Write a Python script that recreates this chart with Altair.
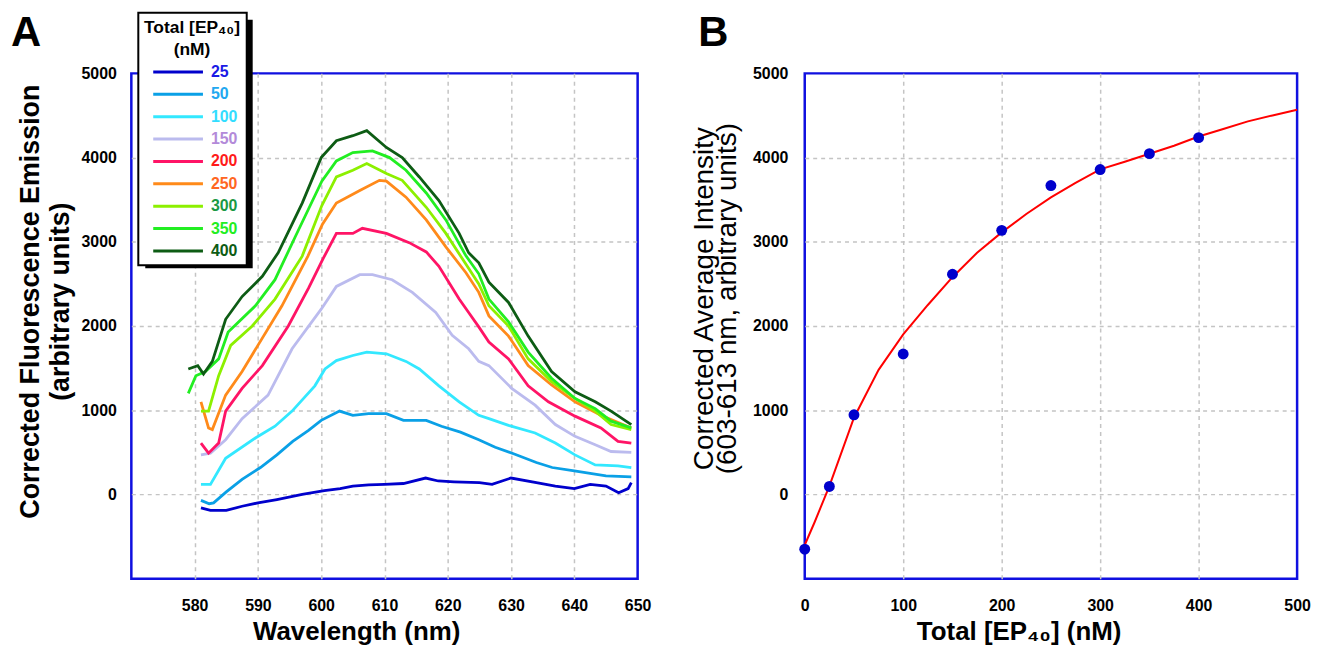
import altair as alt
import pandas as pd

FONT = "Liberation Sans"

# ---------------- Panel A: emission spectra ----------------
concs = ["25", "50", "100", "150", "200", "250", "300", "350", "400"]
line_colors = ["#0000CC", "#0AA0E6", "#33E8FF", "#BBBBEE", "#FF1466",
               "#FF8A1A", "#8CF000", "#22EE22", "#0D5C14"]
label_colors = ["#1A1AE6", "#22A8F0", "#33DDFF", "#B38AD9", "#FF1A1A",
                "#FF6622", "#1A9944", "#22EE22", "#0D5C14"]

wl_25 = [581, 582.5, 585, 587.5, 590, 593, 597, 600.5, 603, 605, 607.5, 610, 613, 616.5, 618.5,
         621, 625, 627, 630, 634, 637, 640, 642.5, 645, 647, 648.5, 649]
v_25 = [-160, -190, -190, -140, -100, -60, 0, 45, 70, 100, 115, 120, 130, 195, 160,
        150, 140, 120, 195, 140, 100, 70, 120, 100, 20, 70, 140]

wl_50 = [581, 582.3, 583, 585, 587.5, 590.4, 593, 595.5, 598, 600, 602.9, 605, 607.5, 610.3, 613,
         616.6, 619, 622, 624.9, 627.5, 630.5, 634, 636.5, 640, 645, 649]
v_50 = [-70, -110, -100, 30, 180, 320, 470, 630, 760, 880, 990, 940, 960, 960, 880,
        880, 810, 740, 650, 560, 480, 380, 320, 280, 220, 210]

wl_100 = [581, 582.5, 584.9, 589.6, 592.7, 595.4, 599, 600.6, 602.4, 605, 607.2, 610.3, 613.4,
          615.5, 618.6, 621.8, 624.9, 626.5, 629.6, 633.8, 637, 640.1, 643.3, 646.9, 649]
v_100 = [120, 120, 430, 670, 810, 990, 1290, 1490, 1590, 1650, 1690, 1670, 1580,
         1490, 1290, 1100, 940, 900, 820, 730, 610, 470, 350, 340, 320]

wl_150 = [581, 582.5, 584.9, 587.5, 591.6, 595.4, 600, 602.4, 606.1, 608.1, 611.2, 614.4, 618.1,
          620.7, 623.3, 624.9, 626.5, 630.1, 633.8, 637, 640.1, 643.3, 645.8, 649]
v_150 = [470, 490, 650, 900, 1180, 1730, 2200, 2470, 2610, 2610, 2550, 2400, 2160,
         1890, 1730, 1580, 1530, 1260, 1060, 830, 690, 590, 510, 500]

wl_200 = [581, 582.2, 583.8, 584.9, 587.5, 590.7, 594.8, 598, 600.3, 602.4, 605, 606.5, 610.3,
          613.9, 616.6, 618.6, 621.8, 623.3, 624.9, 626.5, 629.6, 632.7, 635.9, 640.1, 644.2,
          646.9, 649]
v_200 = [610, 490, 610, 990, 1260, 1530, 2000, 2450, 2800, 3100, 3100, 3160, 3100,
         2990, 2880, 2710, 2320, 2160, 1990, 1810, 1610, 1290, 1100, 930, 790,
         630, 610]

wl_250 = [581, 582.2, 582.8, 584.9, 587.5, 590, 593.8, 597.9, 600.2, 602.4, 606.1, 609.2, 610.3,
          613.4, 616.6, 619.7, 622.9, 624.9, 626.5, 629.6, 632.7, 636.4, 640.1, 644.2, 649]
v_250 = [1100, 790, 770, 1180, 1460, 1770, 2240, 2830, 3210, 3460, 3610, 3730, 3720,
         3530, 3260, 2940, 2630, 2400, 2120, 1880, 1530, 1300, 1100, 940, 790]

wl_300 = [581, 582.2, 583.8, 585.7, 589.1, 592.7, 597, 600.1, 602.4, 605, 607.2, 610.3, 612.8,
          616.6, 619.7, 622.9, 624.9, 626.5, 629.6, 632.7, 636.4, 640.1, 643.3, 645.8, 649]
v_300 = [990, 990, 1410, 1770, 2000, 2320, 2830, 3430, 3770, 3850, 3930, 3810, 3730,
         3410, 3100, 2730, 2500, 2240, 2000, 1610, 1340, 1140, 990, 830, 770]

wl_350 = [579, 580.2, 581.7, 583.8, 585.3, 589.6, 592.7, 595.9, 600.1, 602.4, 605, 608.1, 610.8,
          613.4, 616.6, 619.7, 622.9, 624.9, 626.5, 629.6, 632.7, 636.4, 640.1, 643.3, 645.8, 649]
v_350 = [1200, 1410, 1460, 1610, 1930, 2240, 2550, 3060, 3720, 3960, 4060, 4080, 4000,
         3850, 3580, 3260, 2830, 2620, 2320, 2050, 1690, 1380, 1140, 1020, 870, 790]

wl_400 = [579, 580.5, 581.4, 582.8, 584.9, 587.5, 590.7, 593.2, 597, 600, 602.4, 605, 607.2,
          610.3, 612.8, 615.5, 618.6, 621.8, 623.3, 624.9, 626.5, 629.6, 632.7, 636.4, 640.1,
          643.3, 645.8, 649]
v_400 = [1490, 1530, 1430, 1580, 2080, 2350, 2590, 2870, 3460, 4000, 4200, 4260, 4320,
         4120, 4000, 3770, 3490, 3100, 2870, 2750, 2520, 2280, 1880, 1460, 1220,
         1100, 990, 830]

all_wl = [wl_25, wl_50, wl_100, wl_150, wl_200, wl_250, wl_300, wl_350, wl_400]
all_v = [v_25, v_50, v_100, v_150, v_200, v_250, v_300, v_350, v_400]

x_ticks_a = [580, 590, 600, 610, 620, 630, 640, 650]
y_ticks = [0, 1000, 2000, 3000, 4000, 5000]

# ---------------- Panel B: titration ----------------
conc_pts = [0, 25, 50, 100, 150, 200, 250, 300, 350, 400]
intensity_pts = [-650, 95, 946, 1668, 2615, 3136, 3668, 3858, 4047, 4237]

fit_x = [0, 10, 25, 50, 75, 100, 125, 150, 175, 200, 225, 250, 275, 300, 325, 350, 375, 400,
         425, 450, 475, 500]
fit_y = [-600, -330, 100, 911, 1480, 1900, 2250, 2580, 2870, 3112, 3330, 3527, 3700, 3860,
         3950, 4045, 4140, 4250, 4340, 4430, 4500, 4568]
x_ticks_b = [0, 100, 200, 300, 400, 500]

# ---------------- tables ----------------
rows = []
for c, wl, vv in zip(concs, all_wl, all_v):
    for w, y in zip(wl, vv):
        rows.append({"wavelength": w, "value": y, "conc": c})
spectra = pd.DataFrame(rows)
pts_df = pd.DataFrame({"conc": conc_pts, "intensity": intensity_pts})
fit_df = pd.DataFrame({"conc": fit_x, "intensity": fit_y})
one = pd.DataFrame({"k": [0]})

label_expr = " : ".join(
    f"datum.label == '{c}' ? '{col}'" for c, col in zip(concs, label_colors)
) + " : 'black'"

y_scale = alt.Scale(domain=[-1000, 5000], nice=False, zero=False)
hide_y_edge = {"condition": {"test": "datum.value >= 5000", "value": 0}, "value": 1}

# ---------------- Panel A chart ----------------
shadow = alt.Chart(one).mark_rect(color="black").encode(
    x=alt.value(14), x2=alt.value(122), y=alt.value(-54), y2=alt.value(196)
)

lines = alt.Chart(spectra).mark_line(strokeWidth=2.8).encode(
    x=alt.X("wavelength:Q",
            scale=alt.Scale(domain=[570, 650], nice=False, zero=False),
            axis=alt.Axis(values=x_ticks_a, title="Wavelength (nm)", labelPadding=19,
                          titleX=226, titleY=53, titleBaseline="middle",
                          gridOpacity={"condition": {"test": "datum.value >= 650", "value": 0},
                                       "value": 1})),
    y=alt.Y("value:Q", scale=y_scale,
            axis=alt.Axis(values=y_ticks,
                          title=["Corrected Fluorescence Emission", "(arbitrary units)"],
                          titleFontSize=27, titleLineHeight=30,
                          titleX=-101, titleY=229, titleBaseline="middle",
                          labelPadding=15, gridOpacity=hide_y_edge)),
    color=alt.Color("conc:N",
                    scale=alt.Scale(domain=concs, range=line_colors),
                    legend=alt.Legend(
                        title=["Total [EP\u2084\u2080]", "(nM)"],
                        orient="none", legendX=7, legendY=-61,
                        titleFontSize=17.5, titleFont=FONT, titleFontWeight="bold",
                        titleColor="black", titleAlign="center", titleAnchor="middle",
                        titleLineHeight=23, titlePadding=5,
                        labelFontSize=16, labelFont=FONT, labelFontWeight="bold",
                        labelColor=alt.ExprRef(expr=label_expr),
                        symbolType="M-1,0H9", symbolSize=100, symbolStrokeWidth=3,
                        symbolOffset=3,
                        labelOffset=45, rowPadding=6.5, padding=6,
                        fillColor="white", strokeColor="black", zindex=1,
                    )),
)

text_a = alt.Chart(one).mark_text(
    text="A", font=FONT, fontSize=42, fontWeight="bold", align="left",
    baseline="alphabetic", color="black"
).encode(x=alt.value(-121), y=alt.value(-28))

panel_a = alt.layer(shadow, lines, text_a).properties(width=509, height=508)

# ---------------- Panel B chart ----------------
x_b = alt.X("conc:Q", scale=alt.Scale(domain=[0, 500], nice=False),
            axis=alt.Axis(values=x_ticks_b, title="Total [EP\u2084\u2080] (nM)", labelPadding=19,
                          titleX=215, titleY=53, titleBaseline="middle",
                          gridOpacity={"condition": {"test": "datum.value >= 500 || datum.value <= 0",
                                                     "value": 0}, "value": 1}))
y_b = alt.Y("intensity:Q", scale=y_scale,
            axis=alt.Axis(values=y_ticks,
                          title=["Corrected Average Intensity",
                                 "(603-613 nm, arbitrary units)"],
                          titleFontWeight="normal", titleFontSize=28, titleLineHeight=23,
                          titleX=-101, titleY=226, titleBaseline="middle",
                          labelPadding=17, gridOpacity=hide_y_edge))

fit_line = alt.Chart(fit_df).mark_line(color="#FF0000", strokeWidth=2).encode(x=x_b, y=y_b)
points = alt.Chart(pts_df).mark_circle(color="#0000CC", size=120, opacity=1).encode(
    x="conc:Q", y="intensity:Q")

text_b = alt.Chart(one).mark_text(
    text="B", font=FONT, fontSize=42, fontWeight="bold", align="left",
    baseline="alphabetic", color="black"
).encode(x=alt.value(-107), y=alt.value(-28))

panel_b = alt.layer(fit_line, points, text_b).properties(width=495, height=508)

chart = alt.hconcat(panel_a, panel_b, spacing=168, bounds="flush").properties(
    padding={"left": 1, "top": 0, "right": 5, "bottom": 5}
).configure_view(
    stroke="#1010E0", strokeWidth=2.5
).configure_axis(
    domain=False, ticks=False, tickSize=0,
    grid=True, gridColor="#C4C4C4", gridDash=[4, 4], gridWidth=1.5,
    labelFont=FONT, labelFontSize=16, labelFontWeight="bold", labelColor="black",
    labelFlush=False, format="d",
    titleFont=FONT, titleFontSize=26, titleFontWeight="bold", titleColor="black",
).configure_legend(
    strokeWidth=2
)

chart.save("out.html", embed_options={"renderer": "svg", "actions": False})
